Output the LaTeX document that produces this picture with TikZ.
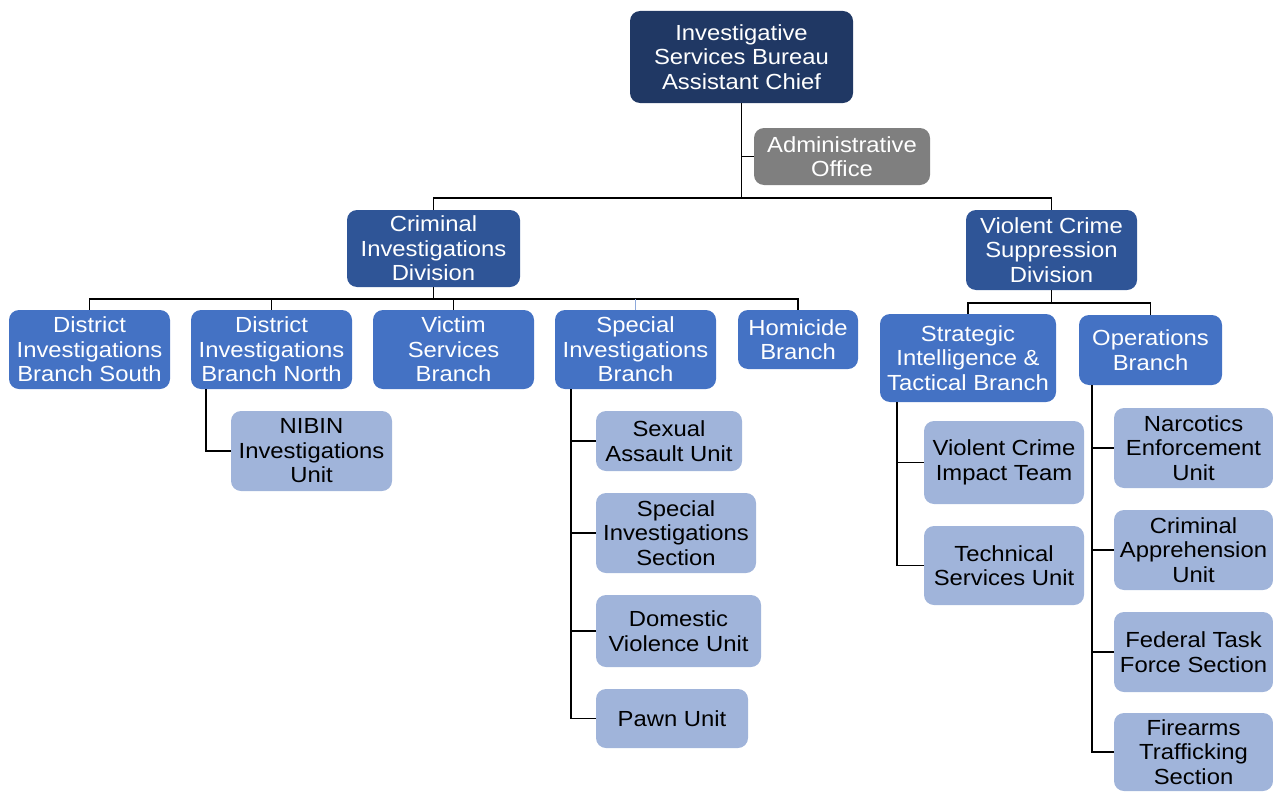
\documentclass[tikz,border=0pt]{standalone}
\usepackage{fontspec}
\setmainfont{Liberation Sans}[FakeStretch=1.09]
\definecolor{navy}{HTML}{203864}
\definecolor{divblue}{HTML}{2F5597}
\definecolor{branchblue}{HTML}{4472C4}
\definecolor{unitblue}{HTML}{A0B4DA}
\definecolor{admingray}{HTML}{7F7F7F}
\definecolor{lightlink}{HTML}{8EA9DB}
\tikzset{
  orgbox/.style={rounded corners=7.5pt, inner sep=0pt, align=center,
    font=\fontsize{16.4}{18.4}\selectfont},
  chiefbox/.style={orgbox, fill=navy, text=white},
  adminbox/.style={orgbox, fill=admingray, text=white},
  divbox/.style={orgbox, fill=divblue, text=white},
  branchbox/.style={orgbox, fill=branchblue, text=white},
  unitbox/.style={orgbox, fill=unitblue, text=black},
  conn/.style={draw=black, line width=1.1pt},
}
% box given by its corners (x1,y1) and (x2,y2), in pixel units
\newcommand\orgnode[7]{%
  \node[#1, minimum width={(#5-#3)*0.75pt}, minimum height={(#6-#4)*0.75pt}]
    (#2) at ({(#3+#5)/2},{(#4+#6)/2}) {#7};}
\begin{document}
\begin{tikzpicture}[x=0.75pt,y=-0.75pt]
\useasboundingbox (0,0) rectangle (1273,792);

% bureau head and staff office
\orgnode{chiefbox}{chief}{630}{11}{853}{103}{Investigative\\Services Bureau\\Assistant Chief}
\orgnode{adminbox}{admin}{754}{128}{930}{185}{Administrative\\Office}

% divisions
\orgnode{divbox}{cid}{347}{210}{520}{287}{Criminal\\Investigations\\Division}
\orgnode{divbox}{vcsd}{966}{210}{1137}{290}{Violent Crime\\Suppression\\Division}

% branches of the Criminal Investigations Division
\orgnode{branchbox}{dibs}{9}{310}{170}{389}{District\\Investigations\\Branch South}
\orgnode{branchbox}{dibn}{191}{310}{352}{389}{District\\Investigations\\Branch North}
\orgnode{branchbox}{vsb}{373}{310}{534}{389}{Victim\\Services\\Branch}
\orgnode{branchbox}{sib}{555}{310}{716}{389}{Special\\Investigations\\Branch}
\orgnode{branchbox}{hom}{738}{310}{858}{369}{Homicide\\Branch}

% branches of the Violent Crime Suppression Division
\orgnode{branchbox}{sitb}{880}{314}{1056}{402}{Strategic\\Intelligence \&\\Tactical Branch}
\orgnode{branchbox}{ops}{1079}{315}{1222}{385}{Operations\\Branch}

% units
\orgnode{unitbox}{nibin}{231}{411}{392}{491}{NIBIN\\Investigations\\Unit}
\orgnode{unitbox}{sa}{596}{411}{742}{471}{Sexual\\Assault Unit}
\orgnode{unitbox}{sis}{596}{493}{756}{573}{Special\\Investigations\\Section}
\orgnode{unitbox}{dv}{596}{595}{761}{667}{Domestic\\Violence Unit}
\orgnode{unitbox}{pawn}{596}{689}{748}{748}{Pawn Unit}
\orgnode{unitbox}{vcit}{924}{421}{1084}{504}{Violent Crime\\Impact Team}
\orgnode{unitbox}{tsu}{924}{526}{1084}{605}{Technical\\Services Unit}
\orgnode{unitbox}{neu}{1114}{408}{1273}{488}{Narcotics\\Enforcement\\Unit}
\orgnode{unitbox}{cau}{1114}{510}{1273}{590}{Criminal\\Apprehension\\Unit}
\orgnode{unitbox}{ftf}{1114}{612}{1273}{692}{Federal Task\\Force Section}
\orgnode{unitbox}{fts}{1114}{713}{1273}{791}{Firearms\\Trafficking\\Section}

% bus points and stem tops
\coordinate (b1) at (741.5,198);
\coordinate (b2) at (433.5,299);
\coordinate (b3) at (1051.5,303);
\coordinate (s1) at (206,389);
\coordinate (s2) at (571,389);
\coordinate (s3) at (897,402);
\coordinate (s4) at (1092,385);

% top level
\draw[conn] (chief.south) -- (b1);
\draw[conn] (admin.west) -- (admin.west -| chief.south);
\draw[conn] (cid.north) |- (b1) -| (vcsd.north);

% Criminal Investigations Division
\draw[conn] (cid.south) -- (b2);
\draw[conn] (dibs.north) |- (b2) -| (hom.north);
\draw[conn] (dibn.north) -- (dibn.north |- b2);
\draw[conn] (vsb.north) -- (vsb.north |- b2);
\draw[conn, draw=lightlink] (sib.north) -- (sib.north |- b2);

% Violent Crime Suppression Division
\draw[conn] (vcsd.south) -- (b3);
\draw[conn] (sitb.north) |- (b3) -| (ops.north);

% unit stems
\draw[conn] (s1) |- (nibin.west);
\draw[conn] (s2) |- (pawn.west);
\draw[conn] (s2 |- sa.west) -- (sa.west);
\draw[conn] (s2 |- sis.west) -- (sis.west);
\draw[conn] (s2 |- dv.west) -- (dv.west);
\draw[conn] (s3) |- (tsu.west);
\draw[conn] (s3 |- vcit.west) -- (vcit.west);
\draw[conn] (s4) |- (fts.west);
\draw[conn] (s4 |- neu.west) -- (neu.west);
\draw[conn] (s4 |- cau.west) -- (cau.west);
\draw[conn] (s4 |- ftf.west) -- (ftf.west);
\end{tikzpicture}
\end{document}
